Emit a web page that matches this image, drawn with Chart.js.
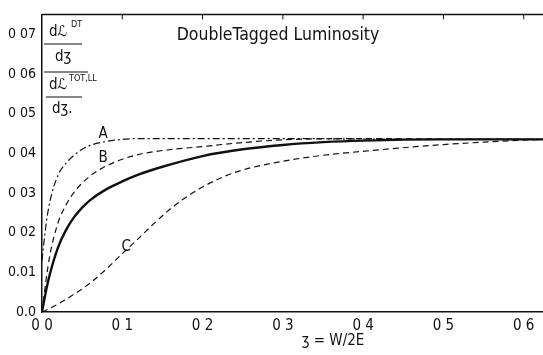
<!DOCTYPE html>
<html>
<head>
<meta charset="utf-8">
<script src="https://cdn.jsdelivr.net/npm/chart.js@4"></script>
<style>
  html, body { margin: 0; padding: 0; background: #fff; }
  #wrap { width: 543px; height: 355px; }
</style>
</head>
<body>
<div id="wrap"><canvas id="c" width="543" height="355"></canvas></div>
<script>
// values
const xA = [0, 0.005, 0.01, 0.02, 0.03, 0.04, 0.05, 0.06, 0.08, 0.1, 0.12, 0.2, 0.3, 0.4, 0.5, 0.624];
const yA = [0.013, 0.022, 0.028, 0.0345, 0.0375, 0.0395, 0.041, 0.042, 0.043, 0.0435, 0.0437, 0.0437, 0.0437, 0.0436, 0.0435, 0.0435];

const xB = [0, 0.005, 0.01, 0.02, 0.03, 0.04, 0.05, 0.06, 0.07, 0.08, 0.1, 0.12, 0.15, 0.2, 0.25, 0.3, 0.4, 0.5, 0.624];
const yB = [0, 0.008, 0.0145, 0.0225, 0.027, 0.0302, 0.0325, 0.0343, 0.0357, 0.0368, 0.0385, 0.0397, 0.0407, 0.0417, 0.0427, 0.0434, 0.0437, 0.0436, 0.0435];

const xSolid = [0, 0.005, 0.01, 0.02, 0.03, 0.04, 0.05, 0.06, 0.08, 0.1, 0.12, 0.15, 0.2, 0.25, 0.3, 0.35, 0.4, 0.5, 0.624];
const ySolid = [0, 0.0053, 0.0097, 0.0163, 0.0207, 0.0239, 0.0263, 0.0282, 0.0309, 0.0329, 0.0346, 0.0366, 0.0393, 0.041, 0.0421, 0.0428, 0.0432, 0.0435, 0.0435];

const xC = [0, 0.02, 0.04, 0.06, 0.08, 0.1, 0.12, 0.14, 0.16, 0.18, 0.2, 0.225, 0.25, 0.3, 0.35, 0.4, 0.45, 0.5, 0.55, 0.6, 0.624];
const yC = [0, 0.002, 0.0045, 0.0073, 0.0108, 0.0147, 0.0185, 0.0224, 0.026, 0.029, 0.0315, 0.034, 0.0358, 0.038, 0.0395, 0.0405, 0.0414, 0.0422, 0.0428, 0.0433, 0.0435];

const xTickLabels = ["0 0", "0 1", "0 2", "0 3", "0 4", "0 5", "0 6"];
const yTickLabels = ["0.0", "0.01", "0 02", "0 03", "0 04", "0 05", "0 06", "0 07"];

const curveLabels = ["A", "B", "C"];
const curveLabelAt = [[0.076, 0.0448], [0.076, 0.0388], [0.105, 0.0163]];

const FONT = "'DejaVu Sans Condensed', 'Liberation Sans Narrow', 'DejaVu Sans', sans-serif";

function pts(xs, ys) { return xs.map((x, i) => ({ x: x, y: ys[i] })); }

const decor = {
  id: 'decor',
  afterDraw(chart) {
    const ctx = chart.ctx;
    const a = chart.chartArea;
    const xs = chart.scales.x, ys = chart.scales.y;
    ctx.save();
    ctx.strokeStyle = '#111';
    ctx.lineWidth = 1.5;
    // top frame
    ctx.beginPath();
    ctx.moveTo(a.left, a.top); ctx.lineTo(a.right, a.top);
    ctx.stroke();
    ctx.lineWidth = 1;
    for (let v = 0.1; v < 0.62; v += 0.1) {
      const px = xs.getPixelForValue(v);
      ctx.beginPath(); ctx.moveTo(px, a.top); ctx.lineTo(px, a.top + 5); ctx.stroke();
    }
    ctx.fillStyle = '#111';
    ctx.font = "17.5px " + FONT;
    ctx.textAlign = 'center';
    ctx.textBaseline = 'middle';
    ctx.fillText('DoubleTagged Luminosity', 278, 35);
    // curve labels
    ctx.font = "15px " + FONT;
    curveLabels.forEach((t, i) => {
      ctx.fillText(t, xs.getPixelForValue(curveLabelAt[i][0]), ys.getPixelForValue(curveLabelAt[i][1]));
    });
    // y axis fraction label
    ctx.textAlign = 'left';
    ctx.font = "15px " + FONT;
    ctx.fillText('dℒ', 49, 32);
    ctx.font = "9px " + FONT;
    ctx.fillText('DT', 71, 25);
    ctx.font = "15px " + FONT;
    ctx.fillText('dʒ', 55, 57);
    ctx.lineWidth = 1.2;
    ctx.beginPath(); ctx.moveTo(44, 44); ctx.lineTo(82, 44); ctx.stroke();
    ctx.beginPath(); ctx.moveTo(44, 72); ctx.lineTo(88, 72); ctx.stroke();
    ctx.fillText('dℒ', 49, 85);
    ctx.font = "9px " + FONT;
    ctx.fillText('TOT,LL', 69, 79);
    ctx.font = "15px " + FONT;
    ctx.beginPath(); ctx.moveTo(46, 97); ctx.lineTo(82, 97); ctx.stroke();
    ctx.fillText('dʒ.', 52, 109);
    // axis title
    ctx.textAlign = 'center';
    ctx.font = "15px " + FONT;
    ctx.fillText('ʒ = W/2E', 333, 341);
    ctx.restore();
  }
};

new Chart(document.getElementById('c'), {
  type: 'scatter',
  data: {
    datasets: [
      { label: 'A', data: pts(xA, yA), showLine: true, borderColor: '#111', borderWidth: 1.2,
        borderDash: [7, 3, 2, 3], pointRadius: 0, cubicInterpolationMode: 'monotone' },
      { label: 'B', data: pts(xB, yB), showLine: true, borderColor: '#111', borderWidth: 1.2,
        borderDash: [6, 4], pointRadius: 0, cubicInterpolationMode: 'monotone' },
      { label: 'total', data: pts(xSolid, ySolid), showLine: true, borderColor: '#111', borderWidth: 2.4,
        pointRadius: 0, cubicInterpolationMode: 'monotone' },
      { label: 'C', data: pts(xC, yC), showLine: true, borderColor: '#111', borderWidth: 1.2,
        borderDash: [6, 4], pointRadius: 0, cubicInterpolationMode: 'monotone' }
    ]
  },
  options: {
    responsive: false,
    animation: false,
    layout: { padding: { top: 12, right: 0, left: 0, bottom: 0 } },
    plugins: { legend: { display: false }, tooltip: { enabled: false } },
    scales: {
      x: {
        type: 'linear', min: 0, max: 0.624,
        grid: { display: false, drawTicks: false },
        border: { display: true, color: '#111', width: 1.5 },
        afterBuildTicks(s) { s.ticks = [0, 0.1, 0.2, 0.3, 0.4, 0.5, 0.6].map(v => ({ value: v })); },
        afterFit(s) { s.height = 43; },
        ticks: {
          color: '#111', padding: 5, maxRotation: 0, autoSkip: false,
          font: { family: FONT, size: 15 },
          callback: (v, i) => xTickLabels[i]
        }
      },
      y: {
        type: 'linear', min: 0, max: 0.075,
        grid: { display: false, drawTicks: false },
        border: { display: true, color: '#111', width: 1.5 },
        afterBuildTicks(s) { s.ticks = [0, 0.01, 0.02, 0.03, 0.04, 0.05, 0.06, 0.07].map(v => ({ value: v })); },
        afterFit(s) { s.width = 42; },
        ticks: {
          color: '#111', padding: 6, autoSkip: false,
          font: { family: FONT, size: 14 },
          callback: (v, i) => yTickLabels[i]
        }
      }
    }
  },
  plugins: [decor]
});
</script>
</body>
</html>
